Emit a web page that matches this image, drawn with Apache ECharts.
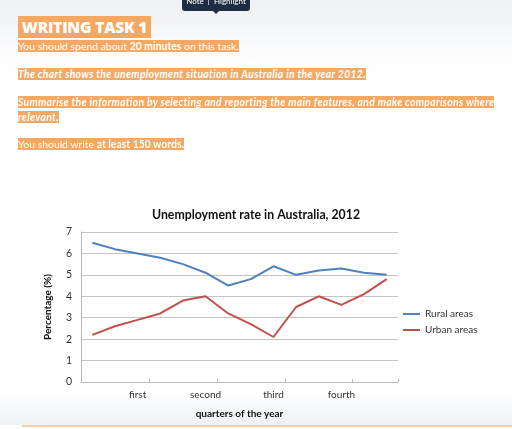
<!DOCTYPE html>
<html>
<head>
<meta charset="utf-8">
<script src="https://cdn.jsdelivr.net/npm/echarts@6/dist/echarts.min.js"></script>
<style>
  html, body { margin:0; padding:0; width:512px; height:429px; overflow:hidden; background:#fff; }
  #bgTop { position:absolute; left:0; top:0; width:512px; height:70px; background:linear-gradient(#eef0f3, #ffffff); }
  #bgBot { position:absolute; left:0; top:392px; width:512px; height:33px; background:linear-gradient(#ffffff, #eff1f4); }
  #orangeLine { position:absolute; left:22px; top:425px; width:490px; height:2px; background:#f9cfa3; }
  #chart { position:absolute; left:0; top:0; width:512px; height:429px; }
  .hl { background:#f5a862; color:#fff; }
  .p { position:absolute; left:18px; font-family:Lato, "Open Sans", sans-serif; font-size:10.4px; line-height:14.5px; color:#fff; white-space:nowrap; }
  .it { letter-spacing:0.3px; }
  #title { position:absolute; left:18px; top:18px; font-family:"Open Sans", sans-serif; font-weight:800; font-size:15.5px; line-height:19px; letter-spacing:-0.2px; }
  #tip { position:absolute; left:182px; top:-4px; width:68px; height:15px; background:#1f2d44; border-radius:3px; color:#fff; font-family:Lato, sans-serif; font-size:8px; line-height:11px; text-align:center; }
  #tipArrow { position:absolute; left:213px; top:11px; width:0; height:0; border-left:3px solid transparent; border-right:3px solid transparent; border-top:3px solid #1f2d44; }
</style>
</head>
<body>
<div id="bgTop"></div>
<div id="bgBot"></div>
<div id="orangeLine"></div>
<div id="chart"></div>
<div id="title"><span class="hl">&nbsp;WRITING TASK 1&nbsp;</span></div>
<div class="p" style="top:39px;"><span class="hl">You should spend about <b>20 minutes</b> on this task.</span></div>
<div class="p it" style="top:67px;"><span class="hl"><b><i>The chart shows the unemployment situation in Australia in the year 2012.</i></b></span></div>
<div class="p it" style="top:95px;"><span class="hl"><b><i>Summarise the information by selecting and reporting the main features, and make comparisons where</i></b></span><br><span class="hl"><b><i>relevant.</i></b></span></div>
<div class="p" style="top:137px;"><span class="hl">You should write <b>at least 150 words.</b></span></div>
<div id="tip">Note &nbsp;|&nbsp; Highlight</div>
<div id="tipArrow"></div>
<script>
// categories: 14 points across the year, labels on every third
const categories = ['', '', 'first', '', '', 'second', '', '', 'third', '', '', 'fourth', '', ''];
const rural = [6.5, 6.2, 6.0, 5.8, 5.5, 5.1, 4.5, 4.8, 5.4, 5.0, 5.2, 5.3, 5.1, 5.0];
const urban = [2.2, 2.6, 2.9, 3.2, 3.8, 4.0, 3.2, 2.7, 2.1, 3.5, 4.0, 3.6, 4.1, 4.8];
const yTicks = [0, 1, 2, 3, 4, 5, 6, 7];

const chart = echarts.init(document.getElementById('chart'));
const font = 'Lato, "Open Sans", sans-serif';
chart.setOption({
  animation: false,
  backgroundColor: 'transparent',
  title: {
    text: 'Unemployment rate in Australia, 2012',
    left: 'center',
    top: 204,
    textStyle: { fontFamily: font, fontWeight: 'bold', fontSize: 12.3, color: '#111' }
  },
  legend: {
    orient: 'vertical',
    left: 403,
    top: 309,
    padding: 0,
    itemWidth: 17,
    itemHeight: 2,
    itemGap: 6,
    icon: 'rect',
    textStyle: { fontFamily: font, fontSize: 10, color: '#333' },
    data: ['Rural areas', 'Urban areas']
  },
  grid: { left: 81, right: 114, top: 232, bottom: 47, containLabel: false },
  xAxis: {
    type: 'category',
    data: categories,
    boundaryGap: true,
    name: 'quarters of the year',
    nameLocation: 'middle',
    nameGap: 27,
    nameTextStyle: { fontFamily: font, fontWeight: 'bold', fontSize: 10, color: '#111' },
    axisLine: { lineStyle: { color: '#b8b8b8' } },
    axisTick: { show: true, inside: true, length: 3, interval: function (i) { return i > 0 && i % 3 === 0; }, lineStyle: { color: '#b8b8b8' } },
    axisLabel: { interval: 0, margin: 8, fontFamily: font, fontSize: 10, color: '#333' },
    splitLine: { show: false }
  },
  yAxis: {
    type: 'value',
    min: yTicks[0],
    max: yTicks[yTicks.length - 1],
    interval: 1,
    name: 'Percentage (%)',
    nameLocation: 'middle',
    nameGap: 28,
    nameRotate: 90,
    nameTextStyle: { fontFamily: font, fontWeight: 'bold', fontSize: 10, color: '#111' },
    axisLine: { show: true, lineStyle: { color: '#b8b8b8' } },
    axisTick: { show: false },
    axisLabel: { margin: 9, fontFamily: font, fontSize: 10.5, color: '#333' },
    splitLine: { lineStyle: { color: '#c4c4c4', width: 1 } }
  },
  series: [
    { name: 'Rural areas', type: 'line', data: rural, symbol: 'none', lineStyle: { color: '#4f81bd', width: 2 }, itemStyle: { color: '#4f81bd' } },
    { name: 'Urban areas', type: 'line', data: urban, symbol: 'none', lineStyle: { color: '#c0504d', width: 2 }, itemStyle: { color: '#c0504d' } }
  ]
});
</script>
</body>
</html>
